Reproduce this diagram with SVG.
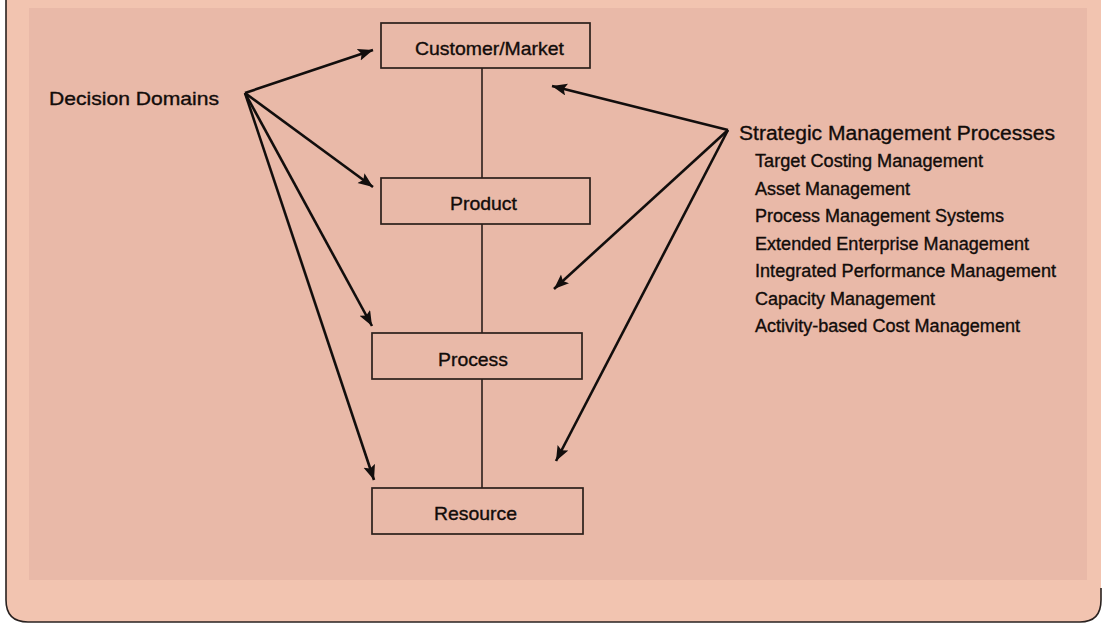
<svg xmlns="http://www.w3.org/2000/svg" width="1103" height="624" viewBox="0 0 1103 624">
  <style>
    .box { fill: none; stroke: #2b1f1b; stroke-width: 1.7; }
    .lbl { font-family: "Liberation Sans", Arial, sans-serif; fill: #120c0a; stroke: #120c0a; stroke-width: 0.35; }
    .node { font-size: 18.5px; }
    .link { stroke: #2b1f1b; stroke-width: 1.6; }
    .arrow { stroke: #120e0d; stroke-width: 2.6; fill: none; marker-end: url(#head); }
  </style>
  <defs>
    <marker id="head" markerUnits="userSpaceOnUse" markerWidth="18" markerHeight="14" refX="15" refY="6" orient="auto">
      <path d="M0,0 L15,6 L0,12 L3,6 z" fill="#120e0d"/>
    </marker>
  </defs>

  <!-- page -->
  <rect x="0" y="0" width="1103" height="624" fill="#ffffff"/>
  <path d="M6,0 V600 Q6,622 28,622 H1080 Q1101,622 1101,600 V0 z" fill="#f2c4b0"/>
  <path d="M6,0 V600 Q6,622 28,622 H1080 Q1101,622 1101,600 V588" fill="none" stroke="#2a2220" stroke-width="1.6"/>
  <rect x="29" y="8" width="1058" height="572" fill="#e9b9a8"/>

  <!-- connectors -->
  <g id="connectors">
    <line class="link" x1="482" y1="68" x2="482" y2="178"/>
    <line class="link" x1="482" y1="224" x2="482" y2="333"/>
    <line class="link" x1="482" y1="379" x2="482" y2="488"/>

    <line class="arrow" x1="245" y1="93" x2="373" y2="50"/>
    <line class="arrow" x1="245" y1="93" x2="373" y2="187"/>
    <line class="arrow" x1="245" y1="93" x2="372" y2="326"/>
    <line class="arrow" x1="245" y1="93" x2="374" y2="480"/>

    <line class="arrow" x1="728" y1="130" x2="552" y2="86"/>
    <line class="arrow" x1="728" y1="130" x2="554" y2="289"/>
    <line class="arrow" x1="728" y1="130" x2="556" y2="461"/>
  </g>

  <!-- nodes -->
  <g id="customer-market">
    <rect class="box" x="381" y="23" width="209" height="45"/>
    <text class="lbl node" x="415" y="55" textLength="149" lengthAdjust="spacingAndGlyphs">Customer/Market</text>
  </g>
  <g id="product">
    <rect class="box" x="381" y="178" width="209" height="46"/>
    <text class="lbl node" x="450" y="210" textLength="67" lengthAdjust="spacingAndGlyphs">Product</text>
  </g>
  <g id="process">
    <rect class="box" x="372" y="333" width="210" height="46"/>
    <text class="lbl node" x="438" y="366" textLength="70" lengthAdjust="spacingAndGlyphs">Process</text>
  </g>
  <g id="resource">
    <rect class="box" x="372" y="488" width="211" height="46"/>
    <text class="lbl node" x="434" y="520" textLength="83" lengthAdjust="spacingAndGlyphs">Resource</text>
  </g>

  <g id="decision-domains">
    <text class="lbl" x="49" y="105" font-size="19" textLength="170" lengthAdjust="spacingAndGlyphs">Decision Domains</text>
  </g>

  <g id="strategic-management-processes" class="lbl" font-size="17.5">
    <text x="739" y="140" font-size="20" textLength="316" lengthAdjust="spacingAndGlyphs">Strategic Management Processes</text>
    <text x="755" y="167" textLength="228" lengthAdjust="spacingAndGlyphs">Target Costing Management</text>
    <text x="755" y="194.5" textLength="155" lengthAdjust="spacingAndGlyphs">Asset Management</text>
    <text x="755" y="222" textLength="249" lengthAdjust="spacingAndGlyphs">Process Management Systems</text>
    <text x="755" y="249.5" textLength="274" lengthAdjust="spacingAndGlyphs">Extended Enterprise Management</text>
    <text x="755" y="277" textLength="301" lengthAdjust="spacingAndGlyphs">Integrated Performance Management</text>
    <text x="755" y="304.5" textLength="180" lengthAdjust="spacingAndGlyphs">Capacity Management</text>
    <text x="755" y="332" textLength="265" lengthAdjust="spacingAndGlyphs">Activity-based Cost Management</text>
  </g>
</svg>
